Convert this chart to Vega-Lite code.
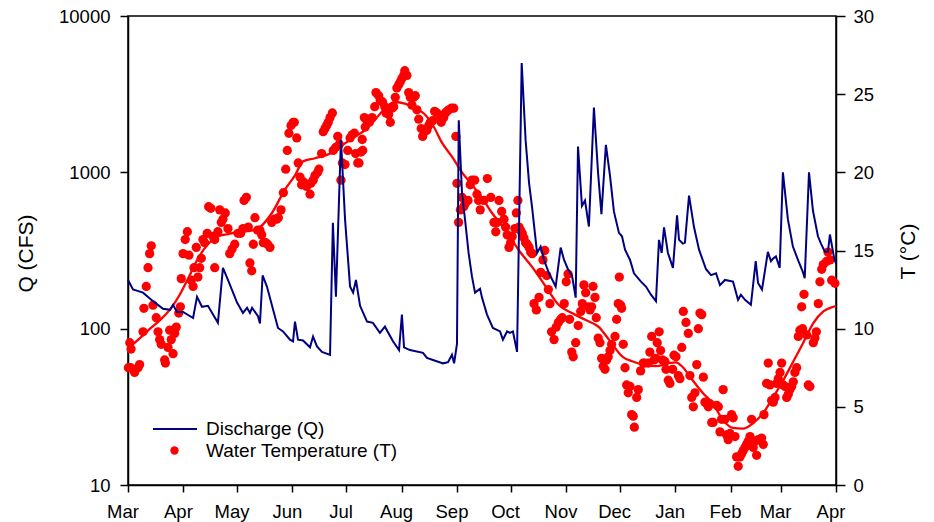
{
  "$schema": "https://vega.github.io/schema/vega-lite/v6.json",
  "width": 708,
  "height": 469,
  "autosize": {"type": "none"},
  "padding": {"left": 128, "top": 16, "right": 98, "bottom": 37},
  "background": "white",
  "config": {
    "font": "Liberation Sans",
    "view": {"stroke": "black", "strokeWidth": 1.5},
    "axis": {
      "domainColor": "black", "domainWidth": 1.5,
      "tickColor": "black", "tickWidth": 1.5, "tickSize": 8,
      "labelFont": "Liberation Sans", "labelFontSize": 18.5, "labelColor": "black",
      "labelPadding": 10, "labelFlush": false, "labelOverlap": false,
      "titleFont": "Liberation Sans", "titleFontSize": 21, "titleFontWeight": "normal", "titleColor": "black",
      "grid": false
    },
    "legend": {
      "title": null, "orient": "none", "direction": "vertical", "padding": 0,
      "labelFont": "Liberation Sans", "labelFontSize": 19, "labelColor": "black", "labelLimit": 0,
      "symbolOpacity": 1
    }
  },
  "datasets": {
    "discharge": [
      {"day":0,"q":205},{"day":2.8,"q":178},{"day":8.4,"q":170},{"day":14.0,"q":150},{"day":19.6,"q":134},{"day":23.5,"q":132},{"day":25.2,"q":142},{"day":27.4,"q":128},{"day":30.8,"q":128},{"day":36.4,"q":117},{"day":38.6,"q":160},{"day":41.4,"q":138},{"day":44.7,"q":140},{"day":50.3,"q":109},{"day":53.1,"q":245},{"day":55.9,"q":205},{"day":61.0,"q":147},{"day":64.3,"q":126},{"day":66.6,"q":136},{"day":68.2,"q":126},{"day":69.4,"q":136},{"day":72.7,"q":120},{"day":73.8,"q":108},{"day":75.3,"q":219},{"day":77.7,"q":186},{"day":83.9,"q":101},{"day":86.7,"q":96},{"day":90.6,"q":85},{"day":92.3,"q":83},{"day":93.4,"q":111},{"day":95.1,"q":85},{"day":97.9,"q":84},{"day":101.8,"q":76},{"day":103.5,"q":89},{"day":105.7,"q":77},{"day":108.5,"q":71},{"day":113.0,"q":68},{"day":114.6,"q":475},{"day":116.3,"q":160},{"day":119.1,"q":1620},{"day":121.4,"q":500},{"day":124.2,"q":186},{"day":125.9,"q":170},{"day":127.5,"q":205},{"day":129.8,"q":140},{"day":133.7,"q":111},{"day":137.0,"q":109},{"day":140.9,"q":94},{"day":143.7,"q":103},{"day":148.2,"q":83},{"day":151.6,"q":73},{"day":153.2,"q":123},{"day":154.4,"q":76},{"day":157.7,"q":73},{"day":165.0,"q":70},{"day":167.2,"q":65},{"day":170.6,"q":63},{"day":176.2,"q":60},{"day":179.0,"q":61},{"day":181.2,"q":68},{"day":182.4,"q":60},{"day":184.0,"q":80},{"day":185.0,"q":2150},{"day":186.8,"q":740},{"day":188.5,"q":500},{"day":190.5,"q":305},{"day":192.4,"q":215},{"day":194.1,"q":170},{"day":196.9,"q":180},{"day":198.0,"q":158},{"day":200.8,"q":123},{"day":204.1,"q":101},{"day":208.1,"q":96},{"day":209.7,"q":85},{"day":212.0,"q":96},{"day":213.6,"q":94},{"day":215.3,"q":96},{"day":217.6,"q":71},{"day":220.2,"q":5000},{"day":222.4,"q":1600},{"day":224.3,"q":860},{"day":226.0,"q":600},{"day":228.8,"q":305},{"day":230.8,"q":335},{"day":232.7,"q":275},{"day":235.5,"q":226},{"day":239.2,"q":186},{"day":242.0,"q":330},{"day":243.9,"q":275},{"day":246.1,"q":240},{"day":248.3,"q":220},{"day":250.4,"q":158},{"day":251.7,"q":1460},{"day":253.9,"q":610},{"day":255.6,"q":660},{"day":257.8,"q":450},{"day":260.6,"q":2600},{"day":262.9,"q":1000},{"day":264.8,"q":540},{"day":267.3,"q":1500},{"day":269.6,"q":950},{"day":271.8,"q":560},{"day":274.6,"q":410},{"day":276.3,"q":390},{"day":278.0,"q":320},{"day":280.8,"q":275},{"day":283.0,"q":226},{"day":286.9,"q":200},{"day":289.7,"q":186},{"day":292.5,"q":165},{"day":295.3,"q":150},{"day":297.0,"q":370},{"day":298.5,"q":305},{"day":299.8,"q":445},{"day":302.0,"q":305},{"day":304.8,"q":245},{"day":307.1,"q":530},{"day":308.2,"q":370},{"day":310.4,"q":350},{"day":311.5,"q":355},{"day":313.8,"q":710},{"day":316.6,"q":445},{"day":319.4,"q":320},{"day":323.3,"q":240},{"day":326.1,"q":220},{"day":328.9,"q":226},{"day":331.1,"q":190},{"day":333.9,"q":205},{"day":338.4,"q":200},{"day":341.2,"q":153},{"day":342.8,"q":165},{"day":345.1,"q":153},{"day":348.4,"q":142},{"day":351.1,"q":270},{"day":352.4,"q":196},{"day":354.6,"q":178},{"day":357.9,"q":310},{"day":359.6,"q":270},{"day":360.7,"q":280},{"day":362.4,"q":290},{"day":364.5,"q":245},{"day":366.3,"q":1000},{"day":369.1,"q":500},{"day":371.9,"q":335},{"day":375.3,"q":265},{"day":377.5,"q":230},{"day":378.5,"q":210},{"day":380.9,"q":1000},{"day":383.1,"q":570},{"day":385.9,"q":390},{"day":387.6,"q":350},{"day":389.8,"q":310},{"day":391.5,"q":310},{"day":392.6,"q":400},{"day":394.9,"q":285},{"day":396,"q":260}
    ],
    "temperature": [
      {"day":0.2,"temp":7.5},{"day":1.0,"temp":9.1},{"day":1.7,"temp":8.7},{"day":1.5,"temp":7.5},{"day":3.7,"temp":7.2},{"day":5.6,"temp":7.5},{"day":6.5,"temp":7.7},{"day":8.4,"temp":9.8},{"day":8.9,"temp":11.3},{"day":10.2,"temp":12.7},{"day":11.2,"temp":13.9},{"day":12.1,"temp":14.8},{"day":13.0,"temp":15.3},{"day":14.0,"temp":11.5},{"day":15.8,"temp":10.7},{"day":16.8,"temp":9.8},{"day":17.7,"temp":9.3},{"day":18.6,"temp":9.0},{"day":20.5,"temp":8.0},{"day":20.9,"temp":7.8},{"day":22.4,"temp":8.8},{"day":23.3,"temp":9.9},{"day":24.2,"temp":9.3},{"day":25.2,"temp":8.4},{"day":26.1,"temp":9.7},{"day":27.0,"temp":10.1},{"day":28.4,"temp":11.0},{"day":29.3,"temp":11.4},{"day":29.8,"temp":13.2},{"day":30.8,"temp":14.8},{"day":32.0,"temp":15.7},{"day":33.2,"temp":16.2},{"day":34.1,"temp":14.7},{"day":35.4,"temp":13.1},{"day":36.4,"temp":12.7},{"day":36.9,"temp":13.9},{"day":38.2,"temp":15.2},{"day":39.1,"temp":13.3},{"day":40.1,"temp":13.9},{"day":41.0,"temp":14.5},{"day":41.9,"temp":15.7},{"day":42.9,"temp":15.5},{"day":44.3,"temp":16.1},{"day":45.1,"temp":17.8},{"day":46.3,"temp":17.7},{"day":47.5,"temp":15.9},{"day":48.5,"temp":15.7},{"day":48.5,"temp":13.9},{"day":50.3,"temp":16.2},{"day":51.3,"temp":17.6},{"day":52.2,"temp":16.8},{"day":53.1,"temp":17.0},{"day":54.4,"temp":17.4},{"day":55.9,"temp":16.4},{"day":56.9,"temp":14.8},{"day":58.2,"temp":15.1},{"day":59.7,"temp":15.4},{"day":61.5,"temp":16.1},{"day":63.0,"temp":16.1},{"day":64.3,"temp":16.4},{"day":64.9,"temp":18.2},{"day":66.2,"temp":18.4},
      {"day":67.3,"temp":16.5},{"day":68.2,"temp":14.2},{"day":69.2,"temp":13.7},{"day":70.1,"temp":15.4},{"day":71.0,"temp":17.1},{"day":72.5,"temp":16.3},{"day":73.8,"temp":16.3},{"day":74.8,"temp":16.0},{"day":75.7,"temp":15.5},{"day":77.0,"temp":15.5},{"day":78.1,"temp":15.4},{"day":79.4,"temp":15.2},{"day":80.4,"temp":16.8},{"day":81.8,"temp":17.0},{"day":83.2,"temp":17.0},{"day":84.1,"temp":17.1},{"day":85.6,"temp":17.6},{"day":86.9,"temp":18.7},{"day":88.2,"temp":20.2},{"day":89.1,"temp":21.4},{"day":90.0,"temp":22.5},{"day":91.2,"temp":23.0},{"day":92.4,"temp":23.2},{"day":93.0,"temp":23.2},{"day":94.4,"temp":22.2},{"day":95.2,"temp":20.6},{"day":96.2,"temp":19.7},{"day":97.1,"temp":19.2},{"day":98.0,"temp":19.4},{"day":99.0,"temp":19.3},{"day":99.9,"temp":19.1},{"day":101.8,"temp":18.6},{"day":102.3,"temp":19.3},{"day":103.6,"temp":19.5},{"day":104.6,"temp":19.8},{"day":106.1,"temp":20.0},{"day":106.8,"temp":20.2},{"day":108.3,"temp":21.2},{"day":109.2,"temp":22.6},{"day":110.2,"temp":22.8},{"day":111.1,"temp":23.0},{"day":112.0,"temp":23.2},{"day":113.0,"temp":23.5},{"day":114.3,"temp":23.8},{"day":114.8,"temp":21.4},{"day":116.2,"temp":21.6},{"day":117.3,"temp":22.3},{"day":118.2,"temp":21.8},{"day":119.1,"temp":19.5},{"day":119.9,"temp":20.6},{"day":121.4,"temp":20.5},{"day":122.9,"temp":21.4},{"day":124.2,"temp":22.2},{"day":125.4,"temp":22.4},{"day":126.6,"temp":22.5},{"day":127.3,"temp":21.2},{"day":128.5,"temp":20.6},{"day":129.2,"temp":20.6},{"day":130.3,"temp":21.3},{"day":131.0,"temp":22.1},{"day":132.2,"temp":23.5},
      {"day":131.3,"temp":21.4},{"day":132.7,"temp":22.9},{"day":133.7,"temp":23.3},{"day":135.0,"temp":23.2},{"day":136.5,"temp":23.5},{"day":138.0,"temp":24.2},{"day":138.7,"temp":25.1},{"day":140.2,"temp":24.9},{"day":141.1,"temp":24.6},{"day":142.4,"temp":24.5},{"day":143.6,"temp":24.2},{"day":144.3,"temp":23.8},{"day":145.8,"temp":23.7},{"day":146.7,"temp":23.2},{"day":147.7,"temp":24.1},{"day":148.6,"temp":24.2},{"day":149.5,"temp":24.8},{"day":150.4,"temp":25.4},{"day":151.4,"temp":25.6},{"day":152.3,"temp":25.8},{"day":153.2,"temp":26.0},{"day":154.2,"temp":26.2},{"day":154.8,"temp":26.5},{"day":156.0,"temp":26.2},{"day":157.0,"temp":25.1},{"day":157.9,"temp":24.8},{"day":158.8,"temp":24.3},{"day":159.8,"temp":24.8},{"day":160.7,"temp":24.9},{"day":161.6,"temp":24.0},{"day":162.6,"temp":23.4},{"day":164.0,"temp":22.8},{"day":164.8,"temp":22.3},{"day":165.9,"temp":22.6},{"day":167.2,"temp":22.7},{"day":168.2,"temp":23.0},{"day":169.1,"temp":23.2},{"day":170.4,"temp":23.3},{"day":171.5,"temp":23.9},{"day":172.8,"temp":23.8},{"day":174.1,"temp":23.5},{"day":175.2,"temp":23.2},{"day":176.6,"temp":23.5},{"day":177.5,"temp":23.8},{"day":178.4,"temp":23.9},{"day":179.4,"temp":24.0},{"day":180.8,"temp":24.1},{"day":182.2,"temp":24.1},{"day":183.4,"temp":22.3},{"day":184.0,"temp":19.3},{"day":184.9,"temp":16.8},{"day":185.9,"temp":17.6},{"day":186.8,"temp":18.4},{"day":187.8,"temp":17.8},{"day":188.6,"temp":18.0},{"day":190.2,"temp":18.2},{"day":191.4,"temp":19.2},{"day":192.4,"temp":19.5},{"day":193.9,"temp":19.5},{"day":195.2,"temp":18.6},{"day":196.1,"temp":18.2},{"day":197.0,"temp":17.6},
      {"day":199.1,"temp":18.2},{"day":201.0,"temp":19.6},{"day":202.9,"temp":18.4},{"day":204.7,"temp":16.8},{"day":205.7,"temp":16.2},{"day":206.5,"temp":16.8},{"day":207.5,"temp":18.2},{"day":209.0,"temp":17.5},{"day":210.3,"temp":17.0},{"day":211.2,"temp":16.5},{"day":212.1,"temp":16.0},{"day":213.1,"temp":15.2},{"day":214.0,"temp":15.5},{"day":214.9,"temp":15.9},{"day":216.4,"temp":16.4},{"day":217.2,"temp":17.4},{"day":218.1,"temp":18.2},{"day":218.7,"temp":16.5},{"day":219.6,"temp":16.3},{"day":220.5,"temp":16.1},{"day":221.5,"temp":15.8},{"day":222.4,"temp":15.5},{"day":223.3,"temp":15.4},{"day":224.3,"temp":15.2},{"day":225.2,"temp":14.9},{"day":226.1,"temp":14.8},{"day":227.1,"temp":11.6},{"day":228.4,"temp":11.2},{"day":229.9,"temp":12.0},{"day":230.8,"temp":13.6},{"day":232.1,"temp":14.4},{"day":233.1,"temp":15.0},{"day":234.2,"temp":13.4},{"day":235.1,"temp":12.5},{"day":236.0,"temp":11.6},{"day":236.9,"temp":9.8},{"day":238.3,"temp":9.3},{"day":239.5,"temp":10.1},{"day":240.7,"temp":10.4},{"day":242.0,"temp":10.6},{"day":242.9,"temp":10.7},{"day":244.0,"temp":11.6},{"day":245.1,"temp":13.0},{"day":246.1,"temp":13.5},{"day":247.0,"temp":10.6},{"day":248.2,"temp":8.5},{"day":249.0,"temp":8.2},{"day":250.4,"temp":9.1},{"day":251.8,"temp":10.2},{"day":253.2,"temp":11.1},{"day":254.1,"temp":11.6},{"day":255.0,"temp":12.8},{"day":256.0,"temp":12.3},{"day":257.4,"temp":11.4},{"day":258.4,"temp":11.2},{"day":259.3,"temp":11.4},{"day":260.1,"temp":12.7},{"day":261.2,"temp":12.0},{"day":261.9,"temp":10.7},{"day":263.0,"temp":9.4},{"day":264.0,"temp":9.1},
      {"day":264.9,"temp":8.1},{"day":265.8,"temp":7.6},{"day":266.8,"temp":7.4},{"day":267.7,"temp":8.0},{"day":268.6,"temp":8.2},{"day":269.6,"temp":8.6},{"day":270.5,"temp":9.0},{"day":272.4,"temp":9.5},{"day":273.3,"temp":10.6},{"day":274.2,"temp":11.6},{"day":274.8,"temp":13.3},{"day":275.6,"temp":11.5},{"day":276.1,"temp":11.3},{"day":277.0,"temp":9.0},{"day":278.0,"temp":7.5},{"day":278.9,"temp":6.4},{"day":279.8,"temp":5.9},{"day":280.8,"temp":6.3},{"day":281.7,"temp":4.5},{"day":282.6,"temp":4.4},{"day":283.2,"temp":3.7},{"day":284.5,"temp":5.6},{"day":285.4,"temp":6.1},{"day":286.7,"temp":7.3},{"day":288.2,"temp":7.8},{"day":289.1,"temp":7.8},{"day":291.0,"temp":7.8},{"day":291.9,"temp":8.5},{"day":292.9,"temp":9.5},{"day":294.2,"temp":8.0},{"day":295.3,"temp":8.1},{"day":296.0,"temp":9.1},{"day":297.1,"temp":9.8},{"day":297.9,"temp":8.6},{"day":299.0,"temp":8.0},{"day":300.3,"temp":7.9},{"day":300.9,"temp":7.4},{"day":302.2,"temp":6.7},{"day":303.1,"temp":6.5},{"day":304.6,"temp":7.4},{"day":305.4,"temp":8.3},{"day":306.5,"temp":8.2},{"day":307.8,"temp":7.0},{"day":308.7,"temp":6.8},{"day":309.7,"temp":8.8},{"day":310.6,"temp":11.1},{"day":312.1,"temp":10.4},{"day":313.4,"temp":9.7},{"day":314.3,"temp":7.0},{"day":315.3,"temp":5.6},{"day":316.2,"temp":5.0},{"day":317.1,"temp":5.9},{"day":318.1,"temp":7.7},{"day":319.0,"temp":10.0},{"day":319.9,"temp":11.0},{"day":320.9,"temp":10.9},{"day":321.8,"temp":6.9},{"day":322.7,"temp":5.3},{"day":323.7,"temp":5.2},{"day":324.6,"temp":5.0},{"day":325.5,"temp":5.2},{"day":326.5,"temp":4.0},{"day":327.3,"temp":4.0},{"day":329.3,"temp":5.1},{"day":330.2,"temp":5.0},{"day":331.1,"temp":3.4},{"day":332.0,"temp":4.2},{"day":332.9,"temp":6.1},{"day":333.9,"temp":4.2},{"day":334.8,"temp":3.2},{"day":335.7,"temp":2.9},{"day":336.7,"temp":3.3},{"day":337.6,"temp":4.5},{"day":338.5,"temp":4.3},{"day":339.5,"temp":3.1},{"day":340.4,"temp":1.8},{"day":341.3,"temp":1.2},{"day":342.3,"temp":1.8},{"day":343.2,"temp":2.0},{"day":344.1,"temp":2.2},{"day":345.1,"temp":2.4},{"day":346.0,"temp":2.6},{"day":346.9,"temp":2.8},{"day":347.9,"temp":3.1},{"day":348.8,"temp":4.2},{"day":349.7,"temp":2.4},{"day":350.7,"temp":2.8},{"day":351.6,"temp":1.9},{"day":352.5,"temp":2.9},{"day":354.4,"temp":3.0},{"day":355.3,"temp":2.6},{"day":355.7,"temp":4.5},{"day":357.2,"temp":6.5},{"day":358.1,"temp":7.8},{"day":359.1,"temp":6.4},{"day":360.0,"temp":5.4},{"day":360.9,"temp":5.3},{"day":361.9,"temp":5.6},{"day":362.8,"temp":6.5},{"day":363.7,"temp":6.8},{"day":364.7,"temp":7.2},{"day":365.6,"temp":7.8},{"day":366.5,"temp":6.4},{"day":367.5,"temp":6.3},{"day":368.4,"temp":5.6},{"day":369.3,"temp":5.8},{"day":370.2,"temp":6.1},{"day":371.2,"temp":6.3},{"day":372.1,"temp":6.6},{"day":373.0,"temp":7.2},{"day":374.0,"temp":7.5},{"day":374.9,"temp":9.5},{"day":375.8,"temp":9.9},{"day":376.8,"temp":11.4},{"day":377.3,"temp":10.0},{"day":378.1,"temp":12.2},{"day":379.6,"temp":9.6},{"day":380.5,"temp":6.4},{"day":381.4,"temp":6.3},{"day":383.3,"temp":9.1},{"day":384.2,"temp":9.4},{"day":385.0,"temp":9.8},{"day":386.1,"temp":11.6},{"day":387.0,"temp":13.0},{"day":388.0,"temp":13.8},{"day":388.9,"temp":14.1},{"day":390.7,"temp":14.3},{"day":391.5,"temp":14.9},{"day":392.6,"temp":14.4},{"day":393.6,"temp":13.1},{"day":395.4,"temp":12.9}
    ],
    "temperature_trend": [
      {"day":0,"temp":8.75},{"day":6.7,"temp":9.4},{"day":12.3,"temp":10.0},{"day":17.9,"temp":10.55},{"day":24.0,"temp":11.3},{"day":29.1,"temp":12.2},{"day":33.6,"temp":13.2},{"day":39.2,"temp":14.5},{"day":44.7,"temp":15.4},{"day":50.3,"temp":15.9},{"day":55.9,"temp":16.05},{"day":62.6,"temp":16.2},{"day":68.2,"temp":16.25},{"day":73.8,"temp":16.5},{"day":80.5,"temp":17.4},{"day":87.8,"temp":18.9},{"day":93.4,"temp":19.8},{"day":97.9,"temp":20.7},{"day":104.6,"temp":20.9},{"day":113.0,"temp":21.2},{"day":117.5,"temp":21.55},{"day":127.0,"temp":22.3},{"day":132.6,"temp":22.7},{"day":138.1,"temp":23.35},{"day":143.7,"temp":24.1},{"day":149.3,"temp":24.5},{"day":154.9,"temp":24.4},{"day":160.5,"temp":24.1},{"day":166.1,"temp":23.7},{"day":171.1,"temp":22.9},{"day":175.6,"temp":21.9},{"day":181.2,"temp":21.0},{"day":186.8,"temp":20.0},{"day":192.4,"temp":19.2},{"day":196.9,"temp":18.55},{"day":203.6,"temp":17.4},{"day":211.2,"temp":16.3},{"day":218.7,"temp":15.0},{"day":226.0,"temp":13.95},{"day":233.6,"temp":12.7},{"day":241.1,"temp":11.5},{"day":248.3,"temp":11.0},{"day":256.0,"temp":10.55},{"day":263.4,"temp":10.1},{"day":269.0,"temp":9.3},{"day":276.7,"temp":8.2},{"day":282.3,"temp":7.9},{"day":287.9,"temp":7.7},{"day":295.3,"temp":7.6},{"day":302.6,"temp":7.8},{"day":306.5,"temp":7.85},{"day":310.2,"temp":7.55},{"day":315.8,"temp":6.7},{"day":321.4,"temp":5.9},{"day":327.2,"temp":5.2},{"day":332.8,"temp":4.15},{"day":338.4,"temp":3.65},{"day":344.0,"temp":3.6},{"day":349.6,"temp":3.95},{"day":355.2,"temp":4.6},{"day":360.8,"temp":5.6},{"day":366.5,"temp":6.7},{"day":372.1,"temp":7.9},{"day":377.7,"temp":9.1},{"day":383.3,"temp":10.35},{"day":388.9,"temp":11.1},{"day":394.5,"temp":11.4},{"day":396,"temp":11.45}
    ]
  },
  "layer": [
    {
      "layer": [
        {
          "data": {"name": "temperature"},
          "mark": {"type": "point", "shape": "circle", "filled": true, "opacity": 1, "size": 86, "strokeWidth": 0},
          "encoding": {
            "x": {
              "field": "day", "type": "quantitative",
              "scale": {"domain": [0, 396], "nice": false, "zero": false},
              "axis": {
                "title": null,
                "values": [0, 31, 61, 92, 122, 153, 184, 214, 245, 275, 306, 337, 365, 396],
                "labelExpr": "['Mar','Apr','May','Jun','Jul','Aug','Sep','Oct','Nov','Dec','Jan','Feb','Mar','Apr'][indexof([0,31,61,92,122,153,184,214,245,275,306,337,365,396], datum.value)]",
                "labelOffset": -5.5,
                "tickSize": 7,
                "labelPadding": 10
              }
            },
            "y": {
              "field": "temp", "type": "quantitative",
              "scale": {"domain": [0, 30], "nice": false, "zero": true},
              "axis": {
                "orient": "right",
                "title": "T (°C)",
                "values": [0, 5, 10, 15, 20, 25, 30],
                "tickSize": 9,
                "labelPadding": 8,
                "titleAngle": -90,
                "titleBaseline": "middle",
                "titleAlign": "center",
                "titleX": 72,
                "titleY": 235
              }
            },
            "fill": {
              "datum": "Water Temperature (T)",
              "type": "nominal",
              "scale": {"domain": ["Water Temperature (T)"], "range": ["#FF0000"]},
              "legend": {
                "legendX": 37,
                "legendY": 425,
                "labelOffset": 22,
                "symbolType": "circle",
                "symbolSize": 70
              }
            }
          }
        },
        {
          "data": {"name": "temperature_trend"},
          "mark": {"type": "line", "color": "#FF0000", "strokeWidth": 2.3, "interpolate": "monotone"},
          "encoding": {
            "x": {"field": "day", "type": "quantitative"},
            "y": {"field": "temp", "type": "quantitative"}
          }
        }
      ]
    },
    {
      "data": {"name": "discharge"},
      "mark": {"type": "line", "strokeWidth": 2},
      "encoding": {
        "x": {"field": "day", "type": "quantitative"},
        "y": {
          "field": "q", "type": "quantitative",
          "scale": {"type": "log", "domain": [10, 10000], "nice": false},
          "axis": {
            "orient": "left",
            "title": "Q (CFS)",
            "values": [10, 100, 1000, 10000],
            "format": "d",
            "tickSize": 8,
            "labelPadding": 10,
            "titleAngle": -90,
            "titleBaseline": "middle",
            "titleAlign": "center",
            "titleX": -102,
            "titleY": 237
          }
        },
        "stroke": {
          "datum": "Discharge (Q)",
          "type": "nominal",
          "scale": {"domain": ["Discharge (Q)"], "range": ["#000080"]},
          "legend": {
            "legendX": 24,
            "legendY": 390,
            "labelOffset": 8,
            "symbolType": "stroke",
            "symbolSize": 1936,
            "symbolStrokeWidth": 2
          }
        }
      }
    }
  ],
  "resolve": {"scale": {"y": "independent"}}
}
